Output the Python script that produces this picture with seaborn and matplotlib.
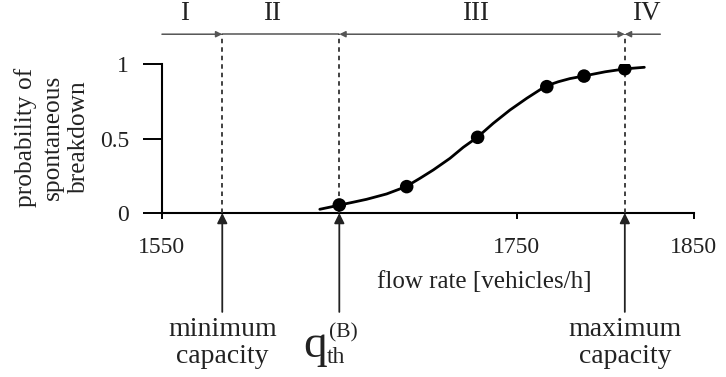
import matplotlib
matplotlib.use("Agg")
import matplotlib.pyplot as plt
import seaborn as sns
import pandas as pd

# Fitted breakdown-probability curve (flow rate, probability)
flow_curve = [1639, 1645, 1650.4, 1658, 1665.4, 1676.7, 1687.6, 1695.5, 1703.0,
              1712.4, 1719.9, 1727.8, 1736.8, 1746.2, 1755.7, 1766.4, 1773.5,
              1780, 1787.6, 1800, 1811.5, 1822]
prob_curve = [0.025, 0.040, 0.054, 0.073, 0.092, 0.128, 0.177, 0.233, 0.289,
              0.367, 0.441, 0.508, 0.602, 0.691, 0.770, 0.852, 0.881,
              0.902, 0.919, 0.948, 0.968, 0.978]

# Measured breakdown probabilities
flow_obs = [1650, 1688, 1728, 1767, 1788, 1811]
prob_obs = [0.054, 0.177, 0.508, 0.848, 0.919, 0.968]

x_ticks = [1550, 1750, 1850]
y_ticks = [0, 0.5, 1]
y_tick_labels = ["0", "0.5", "1"]

min_capacity = 1584
q_threshold = 1650
max_capacity = 1811
phase_end = 1831

phase_labels = ["I", "II", "III", "IV"]
phase_label_x = [1563, 1612, 1727, 1823]

sns.set_theme(style="white")
plt.rcParams["font.family"] = ["Liberation Serif", "DejaVu Serif"]

ink = "#222222"
grey = "#555555"

fig = plt.figure(figsize=(7.26, 3.77), dpi=100)
ax = fig.add_axes([0.2231, 0.435, 0.7328, 0.3952])

curve = pd.DataFrame({"flow": flow_curve, "prob": prob_curve})
obs = pd.DataFrame({"flow": flow_obs, "prob": prob_obs})
sns.lineplot(data=curve, x="flow", y="prob", ax=ax, color="black", lw=2.0,
             sort=False, zorder=4)
sns.scatterplot(data=obs, x="flow", y="prob", ax=ax, color="black", s=95,
                edgecolor="none", zorder=5)

ax.set_xlim(1550, 1850)
ax.set_ylim(0, 1)
ax.set_xticks(x_ticks)
ax.set_xticklabels([str(t) for t in x_ticks])
ax.set_yticks(y_ticks)
ax.set_yticklabels(y_tick_labels)
ax.set_xlabel("")
ax.set_ylabel("")

for side in ("top", "right"):
    ax.spines[side].set_visible(False)
for side in ("left", "bottom"):
    ax.spines[side].set_color("black")
    ax.spines[side].set_linewidth(1.5)

ax.tick_params(axis="y", direction="out", length=13.7, width=1.4, pad=10,
               colors="black", labelcolor=ink, labelsize=17, left=True)
ax.tick_params(axis="x", direction="out", length=4, width=1.4, pad=13,
               colors="black", labelcolor=ink, labelsize=17, bottom=True)

# Dashed markers for the capacity bounds and threshold
top = 1.2
for xv in (min_capacity, q_threshold, max_capacity):
    ax.plot([xv, xv], [0, top], ls=(0, (2.5, 2.2)), color="#333333", lw=1.3,
            clip_on=False, zorder=3)

# Phase arrows along the top
small = dict(color=grey, lw=1.1, mutation_scale=9, shrinkA=0, shrinkB=0)
ax.annotate("", xy=(min_capacity, top), xytext=(1550, top),
            arrowprops=dict(arrowstyle="-|>", **small), annotation_clip=False)
ax.plot([min_capacity, q_threshold], [top, top], color=grey, lw=1.1, clip_on=False)
ax.annotate("", xy=(max_capacity, top), xytext=(q_threshold, top),
            arrowprops=dict(arrowstyle="<|-|>", **small), annotation_clip=False)
ax.annotate("", xy=(max_capacity, top), xytext=(phase_end, top),
            arrowprops=dict(arrowstyle="-|>", **small), annotation_clip=False)

for lab, xv in zip(phase_labels, phase_label_x):
    ax.text(xv, 1.295, lab, ha="center", va="baseline", fontsize=19.5,
            color=ink, clip_on=False)

# Arrows from below pointing at the axis
big = dict(arrowstyle="-|>", color=ink, lw=1.3, mutation_scale=15,
           shrinkA=0, shrinkB=0)
for xv in (min_capacity, q_threshold, max_capacity):
    ax.annotate("", xy=(xv, 0), xytext=(xv, -0.664), arrowprops=big,
                annotation_clip=False)

ax.text(1732, -0.463, "flow rate [vehicles/h]", ha="center", va="center",
        fontsize=18, color=ink, clip_on=False)

for xv, name in ((min_capacity, "minimum"), (max_capacity, "maximum")):
    ax.text(xv, -0.826, name, ha="center", va="baseline", fontsize=20,
            color=ink, clip_on=False)
    ax.text(xv, -1.007, "capacity", ha="center", va="baseline", fontsize=20,
            color=ink, clip_on=False)

ax.text(1643.0, -0.966, "q", ha="right", va="baseline", fontsize=34,
        color=ink, clip_on=False)
ax.text(1643.0, -1.007, "th", ha="left", va="baseline", fontsize=17,
        color=ink, clip_on=False)
ax.text(1644.0, -0.835, "(B)", ha="left", va="baseline", fontsize=15.5,
        color=ink, clip_on=False)

fig.text(52 / 726, 1 - 137 / 377, "probability of\nspontaneous\nbreakdown",
         rotation=90, ha="center", va="center", fontsize=18.3, color=ink,
         linespacing=1.28)

fig.savefig("out.png", dpi=100, facecolor="white")
